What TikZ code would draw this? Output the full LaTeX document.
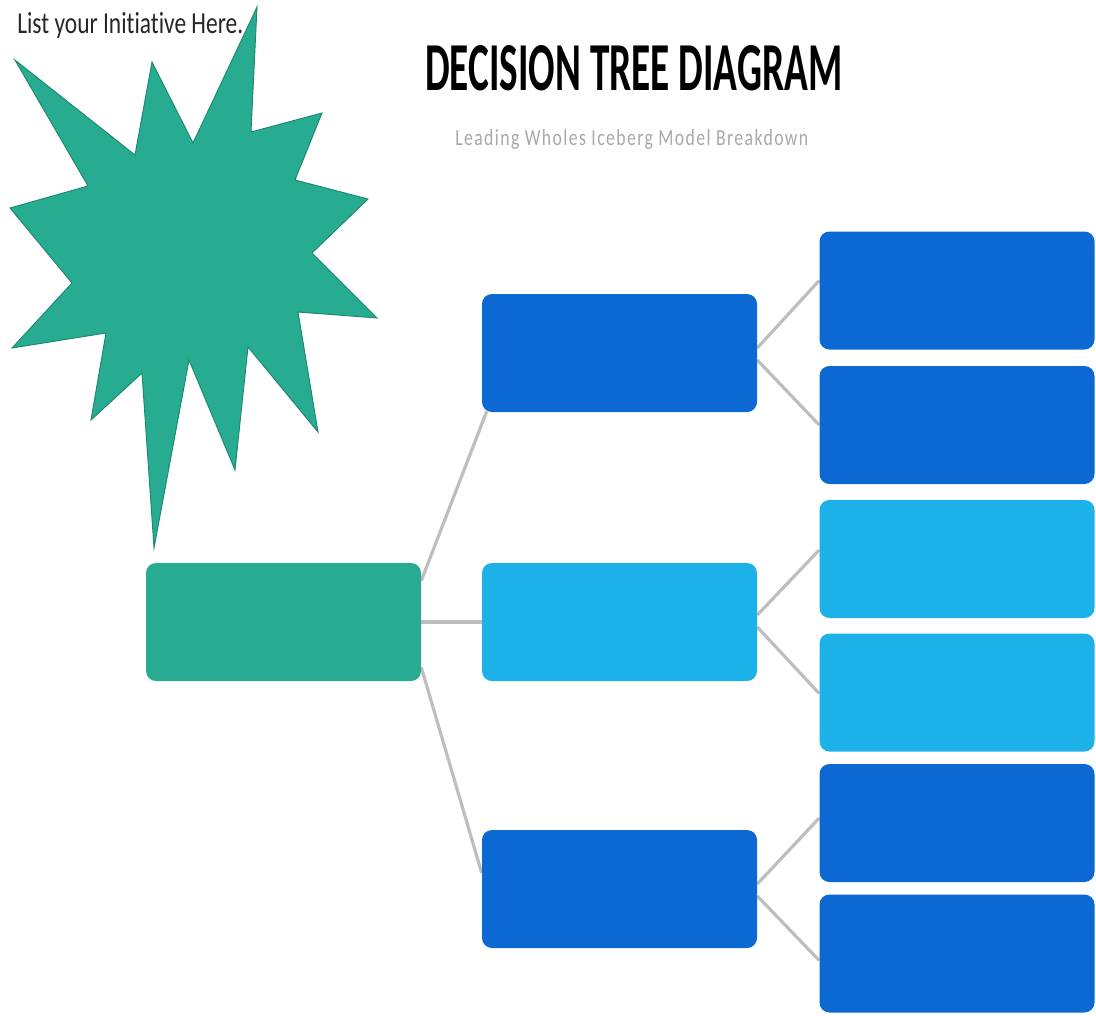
\documentclass[tikz,border=0pt]{standalone}
\usepackage{fontspec}
\usepackage{graphicx}
\setmainfont{Carlito}[Ligatures={NoCommon}]
\usetikzlibrary{calc,backgrounds}

\definecolor{tealfill}{HTML}{27AC92}
\definecolor{tealedge}{HTML}{1E8770}
\definecolor{deepblue}{HTML}{0C68D3}
\definecolor{skyblue}{HTML}{1DB1EA}
\definecolor{linkgray}{HTML}{BEBEBE}
\definecolor{subgray}{HTML}{A8A8A8}

\tikzset{
  box/.style={rectangle, rounded corners=7.5pt, inner sep=0pt,
              minimum width=206.25pt, minimum height=88.5pt},
  link/.style={draw=linkgray, line width=2.4pt},
  label/.style={inner sep=0pt, anchor=base west}
}

\begin{document}
\begin{tikzpicture}[x=0.75pt, y=-0.75pt]
\useasboundingbox (0,0) rectangle (1096,1015);

% title block
\node[label] (title) at (425,90)
  {\resizebox{312.75pt}{33.75pt}{\bfseries DECISION TREE DIAGRAM}};
\node[label, text=subgray] (subtitle) at (455,145)
  {\resizebox{264.75pt}{12pt}{\addfontfeatures{LetterSpace=8}Leading Wholes Iceberg Model Breakdown}};

% starburst
\draw[fill=tealfill, draw=tealedge, line width=0.7pt, line join=miter]
  (257,7) -- (251,132) -- (322,113) -- (295,180) -- (368,199) -- (312,253)
  -- (377,318) -- (298,312) -- (318,432) -- (248,347) -- (235,470)
  -- (189,360) -- (154,548) -- (142,373) -- (91,420) -- (106,333)
  -- (12,348) -- (72,283) -- (10,208) -- (88,186) -- (15,60)
  -- (135,155) -- (152,62) -- (193,143) -- cycle;

\node[label, text=black!85] (initiative) at (17,33)
  {\resizebox{169.5pt}{15.75pt}{List your Initiative Here.}};

% tree nodes
\node[box, fill=tealfill] (root) at (283.5,622) {};

\node[box, fill=deepblue] (m1) at (619.5,353) {};
\node[box, fill=skyblue]  (m2) at (619.5,622) {};
\node[box, fill=deepblue] (m3) at (619.5,889) {};

\node[box, fill=deepblue] (r1) at (957,290.5) {};
\node[box, fill=deepblue] (r2) at (957,425) {};
\node[box, fill=skyblue]  (r3) at (957,559) {};
\node[box, fill=skyblue]  (r4) at (957,692.5) {};
\node[box, fill=deepblue] (r5) at (957,823) {};
\node[box, fill=deepblue] (r6) at (957,953.5) {};

% connectors
\begin{scope}[on background layer]
  \draw[link] ($(root.north east)+(0,18)$) -- ($(m1.south west)+(5,-1)$);
  \draw[link] (root.east) -- (m2.west);
  \draw[link] ($(root.south east)+(0,-14)$) -- ($(m3.west)+(0,-16)$);

  \draw[link] ($(m1.east)+(0,-5)$) -- ($(r1.west)+(0,-10)$);
  \draw[link] ($(m1.east)+(0,7)$)  -- ($(r2.west)+(0,0)$);
  \draw[link] ($(m2.east)+(0,-7)$) -- ($(r3.west)+(0,-9)$);
  \draw[link] ($(m2.east)+(0,5)$)  -- ($(r4.west)+(0,1)$);
  \draw[link] ($(m3.east)+(0,-5)$) -- ($(r5.west)+(0,-5)$);
  \draw[link] ($(m3.east)+(0,7)$)  -- ($(r6.west)+(0,7)$);
\end{scope}
\end{tikzpicture}
\end{document}
